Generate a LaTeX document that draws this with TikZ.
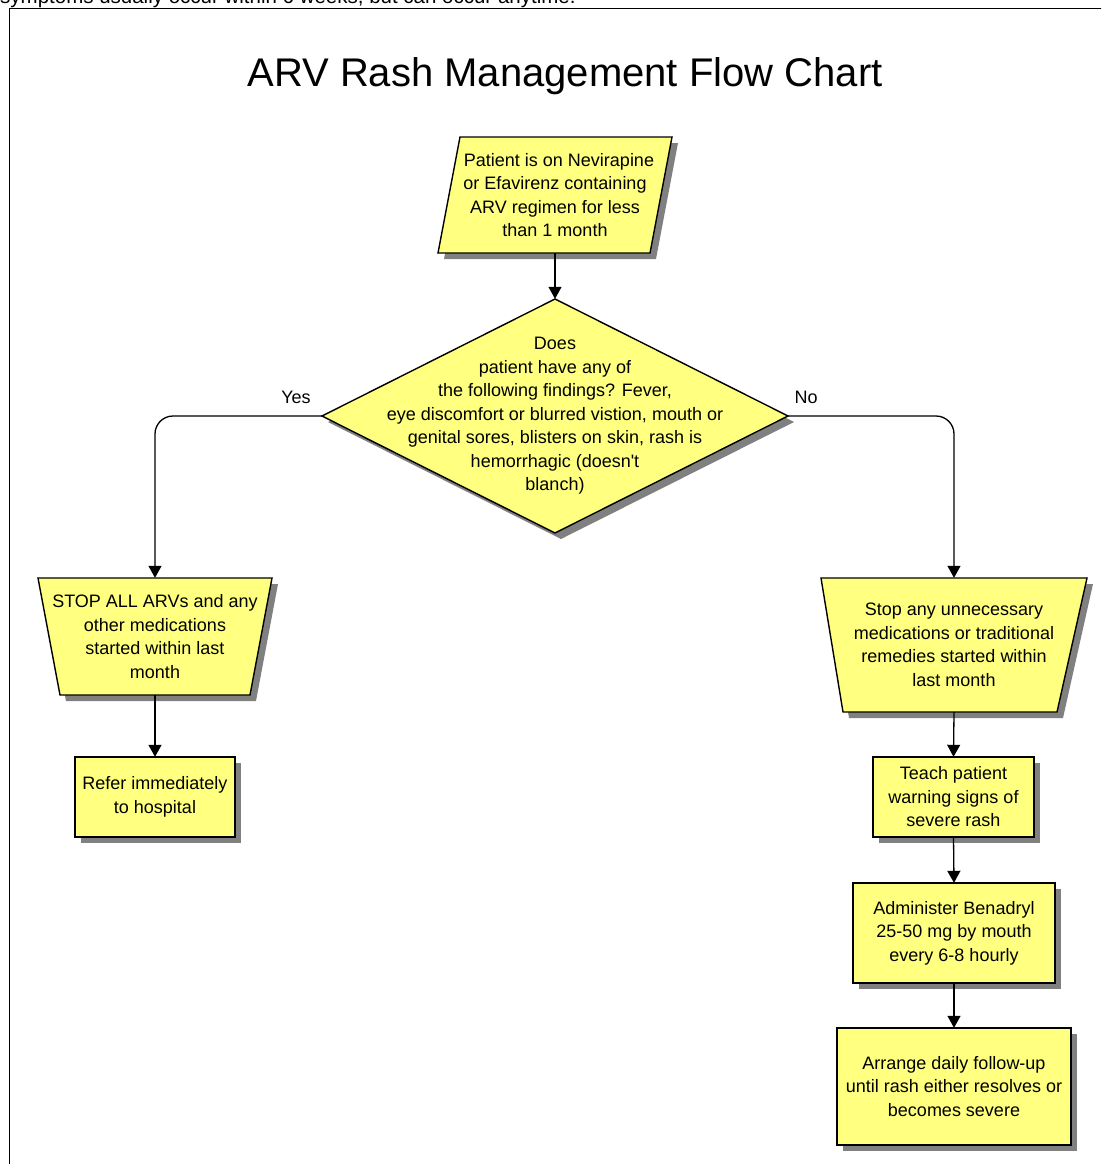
\documentclass[tikz,border=0pt]{standalone}
\usepackage{fontspec}
\setmainfont{Liberation Sans}
\usetikzlibrary{arrows.meta,backgrounds,calc}
\definecolor{boxyellow}{HTML}{FFFF80}
\definecolor{shadowgray}{HTML}{808080}
\tikzset{
  txt/.style={inner sep=0pt, align=center, font=\fontsize{18}{23.5}\selectfont},
  shapefill/.style={fill=boxyellow, draw=black, line width=1.4pt, line join=miter},
  arr/.style={draw=black, line width=1.3pt, -{Triangle[width=13pt,length=12pt]}},
  lbl/.style={inner sep=0pt, font=\fontsize{18}{22}\selectfont},
  notelbl/.style={inner sep=0pt, font=\fontsize{20.5}{24}\selectfont},
  frameline/.style={draw=black, line width=1.5pt},
}
\newcommand\shpoly[2]{%
  \fill[shadowgray, shift={(#1.center)}, shift={(6,6)}] #2;
  \filldraw[shapefill, shift={(#1.center)}] #2;
}
\begin{document}
\begin{tikzpicture}[x=1pt, y=-1pt]
\useasboundingbox (0,0) rectangle (1101,1164);
\clip (0,0) rectangle (1101,1164);

% cut-off note and frame
\node[notelbl, anchor=base west] (note) at (0,4) {symptoms usually occur within 6 weeks, but can occur anytime.};
\draw[frameline] (9.5,1200) -- (9.5,8.5) -- (1200,8.5);

% title
\node[inner sep=0pt, font=\fontsize{40}{48}\selectfont] (title) at (565,76) {ARV Rash Management Flow Chart};

% nodes (text); shapes drawn behind
\node[txt, minimum width=234, minimum height=116] (P) at (555,195)
  {\hspace*{8pt}Patient is on Nevirapine\\or Efavirenz containing\\ARV regimen for less\\than 1 month};
\node[txt, minimum width=466, minimum height=234] (D) at (555,416)
  {Does\\patient have any of\\the following findings? Fever,\\eye discomfort or blurred vistion, mouth or\\genital sores, blisters on skin, rash is\\hemorrhagic (doesn\textquotesingle t\\blanch)};
\node[txt, minimum width=234, minimum height=117] (S) at (155,636.5)
  {STOP ALL ARVs and any\\other medications\\started within last\\month};
\node[txt, minimum width=266, minimum height=134] (U) at (954,645)
  {Stop any unnecessary\\medications or traditional\\remedies started within\\last month};
\node[txt, minimum width=160, minimum height=80] (R) at (155,797)
  {Refer immediately\\to hospital};
\node[txt, minimum width=161, minimum height=80] (T) at (953.5,797)
  {Teach patient\\warning signs of\\severe rash};
\node[txt, minimum width=202, minimum height=100] (A) at (954,933)
  {Administer Benadryl\\25-50 mg by mouth\\every 6-8 hourly};
\node[txt, minimum width=234, minimum height=117] (G) at (954,1086.5)
  {Arrange daily follow-up\\until rash either resolves or\\becomes severe};

\begin{scope}[on background layer]
  \shpoly{P}{(-95,-58) -- (117,-58) -- (95,58) -- (-117,58) -- cycle}
  \shpoly{D}{(0,-117) -- (233,0) -- (0,117) -- (-233,0) -- cycle}
  \shpoly{S}{(-117,-58.5) -- (117,-58.5) -- (95,58.5) -- (-95,58.5) -- cycle}
  \shpoly{U}{(-133,-67) -- (133,-67) -- (103,67) -- (-111,67) -- cycle}
  \shpoly{R}{(-80,-40) rectangle (80,40)}
  \shpoly{T}{(-80.5,-40) rectangle (80.5,40)}
  \shpoly{A}{(-101,-50) rectangle (101,50)}
  \shpoly{G}{(-117,-58.5) rectangle (117,58.5)}
\end{scope}

% connectors
\draw[arr] (P.south) -- (D.north);
\draw[arr, rounded corners=18] (D.west) -| (S.north);
\draw[arr, rounded corners=18] (D.east) -| (U.north);
\draw[arr] (S.south) -- (R.north);
\draw[arr] (U.south) -- (T.north);
\draw[arr] (T.south) -- (A.north);
\draw[arr] (A.south) -- (G.north);

% branch labels
\node[lbl] (yes) at (296,397) {Yes};
\node[lbl] (no) at (806,397) {No};
\end{tikzpicture}
\end{document}
